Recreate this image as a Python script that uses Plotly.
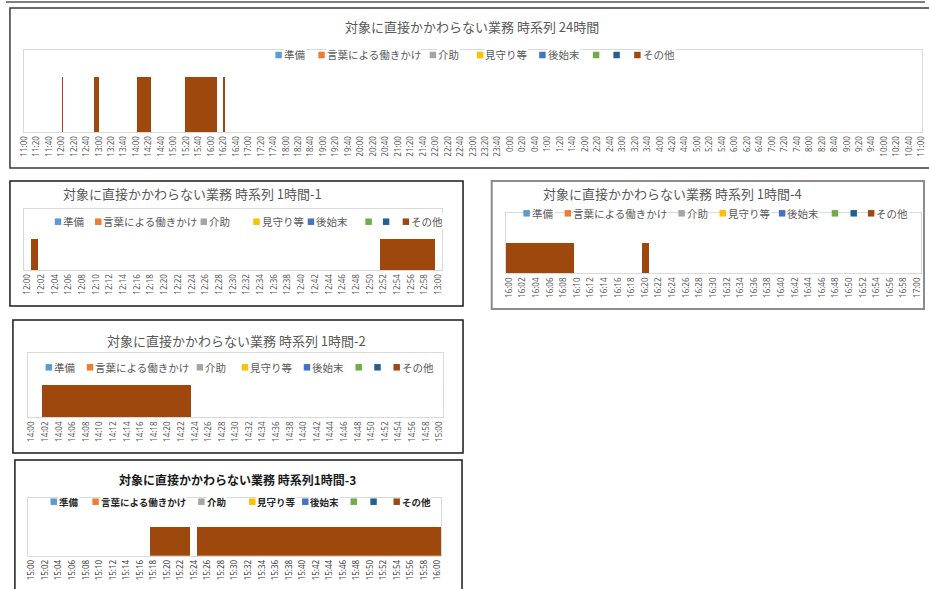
import plotly.graph_objects as go

# ---------------------------------------------------------------- data ----
SERIES_NAMES = ["準備", "言葉による働きかけ", "介助", "見守り等", "後始末", "", "", "その他"]
SERIES_COLORS = ["#5B9BD5", "#ED7D31", "#A5A5A5", "#FFC000",
                 "#4472C4", "#70AD47", "#255E91", "#9E480E"]
OTHER_VALUE = 1  # height of a busy minute for "その他"

# 24-hour view: one category per minute from 11:00 to 11:00 next day
DAY_START = "11:00"
DAY_SLOTS = 1441
DAY_OTHER = [("12:01", "12:01"), ("12:52", "12:59"), ("14:02", "14:23"),
             ("15:18", "15:23"), ("15:25", "16:09"), ("16:20", "16:20")]

# 1-hour views: one category per minute, 61 categories each
HOUR_SLOTS = 61
HOUR1_START, HOUR1_OTHER = "12:00", [("12:01", "12:01"), ("12:52", "12:59")]
HOUR2_START, HOUR2_OTHER = "14:00", [("14:02", "14:23")]
HOUR3_START, HOUR3_OTHER = "15:00", [("15:18", "15:23"), ("15:25", "16:00")]
HOUR4_START, HOUR4_OTHER = "16:00", [("16:00", "16:09"), ("16:20", "16:20")]


def clock_labels(start, count, step):
    h, m = map(int, start.split(":"))
    t0 = h * 60 + m
    out = []
    for k in range(count):
        t = (t0 + k * step) % 1440
        out.append(f"{t // 60}:{t % 60:02d}")
    return out


DAY_TICKS = clock_labels(DAY_START, 73, 20)
HOUR1_TICKS = clock_labels(HOUR1_START, 31, 2)
HOUR2_TICKS = clock_labels(HOUR2_START, 31, 2)
HOUR3_TICKS = clock_labels(HOUR3_START, 31, 2)
HOUR4_TICKS = clock_labels(HOUR4_START, 31, 2)

# -------------------------------------------------------------- helpers ----
W, H = 929, 589
FONT_JP = "Noto Sans CJK JP"
GREY_TXT = "#595959"


def px(x):
    return x / W


def py(y):
    return 1 - y / H


def slot(start, t):
    h0, m0 = map(int, start.split(":"))
    h1, m1 = map(int, t.split(":"))
    return ((h1 * 60 + m1) - (h0 * 60 + m0)) % 1440


fig = go.Figure()

# panel: (axis suffix, start, spans, ticks, tick step, slots, y max,
#         plot area x0,x1,y0,y1 in px)
panels = [
    ("", DAY_START, DAY_OTHER, DAY_TICKS, 20, DAY_SLOTS, 1.5, 18, 926, 50, 132),
    ("2", HOUR1_START, HOUR1_OTHER, HOUR1_TICKS, 2, HOUR_SLOTS, 2, 18.3, 440.7, 209.3, 270),
    ("3", HOUR4_START, HOUR4_OTHER, HOUR4_TICKS, 2, HOUR_SLOTS, 2, 505.3, 924.7, 213.3, 273.3),
    ("4", HOUR2_START, HOUR2_OTHER, HOUR2_TICKS, 2, HOUR_SLOTS, 2, 22.7, 441.7, 353, 417.3),
    ("5", HOUR3_START, HOUR3_OTHER, HOUR3_TICKS, 2, HOUR_SLOTS, 2, 22.7, 440, 497.7, 555.7),
]

layout_axes = {}
for i, (sfx, start, spans, ticks, step, nslots, ymax, x0, x1, y0, y1) in enumerate(panels):
    xs, ws, ys = [], [], []
    for a, b in spans:
        ia, ib = slot(start, a), slot(start, b)
        n = ib - ia + 1
        xs.append(ia + n / 2)
        ws.append(n)
        ys.append(OTHER_VALUE)
    fig.add_trace(go.Bar(
        x=xs, y=ys, width=ws, name="その他",
        marker=dict(color=SERIES_COLORS[7], line=dict(width=0)),
        xaxis="x" + sfx, yaxis="y" + sfx, showlegend=False,
        hoverinfo="skip",
    ))
    tick_color = "#404040" if i == 4 else GREY_TXT
    layout_axes["xaxis" + sfx] = dict(
        domain=[px(x0), px(x1)], range=[0, nslots], anchor="y" + sfx,
        tickmode="array",
        tickvals=[k * step + 0.5 for k in range(len(ticks))],
        ticktext=ticks, tickangle=-90, ticklabeloverflow="allow",
        tickfont=dict(family="Noto Sans", size=8, color=tick_color),
        showgrid=False, zeroline=False, showline=True, mirror=True,
        linecolor="#D9D9D9", linewidth=1, ticks="", fixedrange=True,
    )
    layout_axes["yaxis" + sfx] = dict(
        domain=[py(y1), py(y0)], range=[0, ymax], anchor="x" + sfx,
        showticklabels=False, showgrid=False, zeroline=False,
        showline=True, mirror=True, linecolor="#D9D9D9", linewidth=1,
        ticks="", fixedrange=True,
    )

# ------------------------------------------------------ frames & titles ----
shapes = []


def frame(x0, y0, x1, y1, color="#3A3A3A", width=1.5):
    shapes.append(dict(type="rect", xref="paper", yref="paper",
                       x0=px(x0), x1=px(x1), y0=py(y1), y1=py(y0),
                       line=dict(color=color, width=width), layer="below"))


shapes.append(dict(type="line", xref="paper", yref="paper",
                   x0=0, x1=1, y0=py(2), y1=py(2),
                   line=dict(color="#555555", width=1.5)))
frame(4, 8, 940, 168)
frame(4, 181, 462, 306, "#1A1A1A")
frame(491, 181, 928, 309, "#8C8C8C", 2)
frame(7, 320, 462, 453, "#1A1A1A")
frame(9, 460, 461, 600, "#1A1A1A")

annotations = []
TITLE = "対象に直接かかわらない業務 時系列 "
titles = [
    (TITLE + "24時間", 471, 27, False),
    (TITLE + "1時間-1", 189, 193, False),
    (TITLE + "1時間-4", 674, 193, False),
    (TITLE + "1時間-2", 233.5, 340, False),
    ("対象に直接かかわらない業務 時系列1時間-3", 234, 479, True),
]
for text, cx, cy, bold in titles:
    annotations.append(dict(
        text=f"<b>{text}</b>" if bold else text,
        x=px(cx), y=py(cy), xref="paper", yref="paper",
        xanchor="center", yanchor="middle", showarrow=False,
        font=dict(family=FONT_JP, size=12 if bold else 13,
                  color="#1A1A1A" if bold else GREY_TXT),
    ))

# legend rows: (center y, square left edges, font size, bold)
legends = [
    (55, [272.3, 315.7, 428.3, 476, 539, 593.3, 614, 635], 10.5, False),
    (221.7, [49.3, 90, 196.7, 250, 305, 363.3, 381, 401], 10.5, False),
    (213.3, [523, 564.7, 679.7, 721.3, 781.3, 834.7, 853.7, 871.3], 10.5, False),
    (367.3, [40, 81.7, 192.7, 238.3, 301, 353.3, 372.3, 391.7], 10.5, False),
    (501.7, [45, 87.3, 194.3, 245.7, 299.3, 348.3, 368.3, 391.7], 9.5, True),
]
SQ = 6.5
for cy, lefts, fsize, bold in legends:
    for name, color, lx in zip(SERIES_NAMES, SERIES_COLORS, lefts):
        if name:
            annotations.append(dict(
                text=f"<b>{name}</b>" if bold else name,
                x=px(lx + SQ + 1), y=py(cy), xref="paper", yref="paper",
                xanchor="left", yanchor="middle", showarrow=False,
                bgcolor="white", borderpad=0,
                font=dict(family=FONT_JP, size=fsize,
                          color="#262626" if bold else GREY_TXT),
            ))
        shapes.append(dict(type="rect", xref="paper", yref="paper",
                           x0=px(lx), x1=px(lx + SQ),
                           y0=py(cy + SQ / 2), y1=py(cy - SQ / 2),
                           fillcolor=color, line=dict(width=0)))

fig.update_layout(
    width=W, height=H, margin=dict(l=0, r=0, t=0, b=0),
    paper_bgcolor="white", plot_bgcolor="white",
    bargap=0, showlegend=False,
    shapes=shapes, annotations=annotations,
    **layout_axes,
)

fig.write_html("out.html")
